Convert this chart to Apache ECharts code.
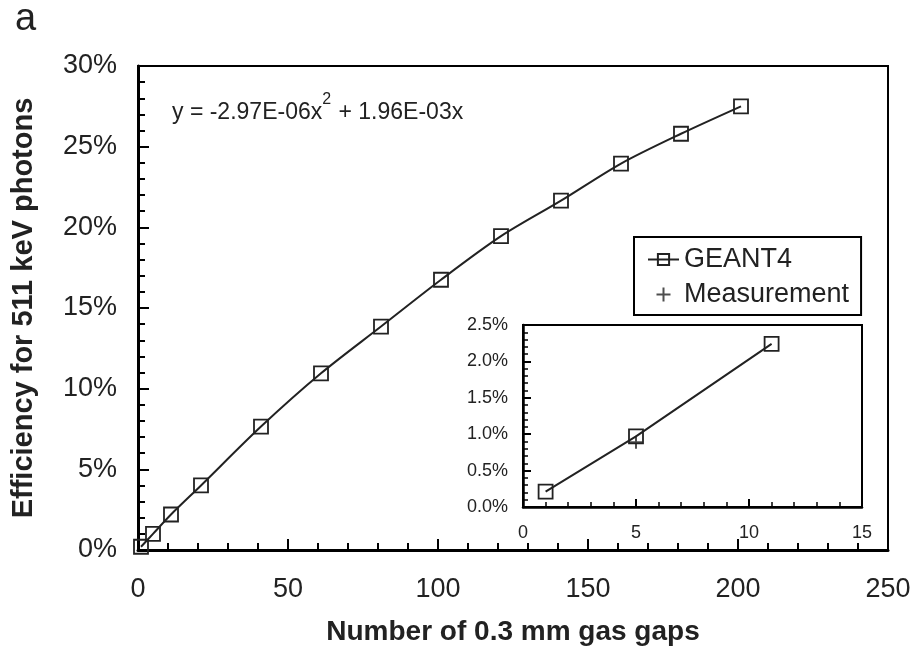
<!DOCTYPE html>
<html><head><meta charset="utf-8">
<script src="https://cdn.jsdelivr.net/npm/echarts@6/dist/echarts.min.js"></script>
<style>html,body{margin:0;padding:0;background:#fff}#c{width:919px;height:651px}</style>
</head><body><div id="c"></div>
<script>
// Main chart data (efficiency in %)
const gaps = [1, 5, 11, 21, 41, 61, 81, 101, 121, 141, 161, 181, 201];
const geant4 = [0.2, 1.0, 2.2, 4.0, 7.65, 10.95, 13.85, 16.75, 19.45, 21.65, 23.95, 25.8, 27.5];
// Inset data
const insetGaps = [1, 5, 11];
const insetGeant4 = [0.21, 0.97, 2.24];
const measGaps = [5];
const measValues = [0.89];
const equationText = ['y = -2.97E-06x', '2', ' + 1.96E-03x'];

const font = 'Liberation Sans, Arial, sans-serif';
const txt = '#222';
const plus = 'path://M5,0 L5,10 M0,5 L10,5';

const chart = echarts.init(document.getElementById('c'), null, {renderer: 'canvas'});
chart.setOption({
  animation: false,
  backgroundColor: '#fff',
  textStyle: {fontFamily: font},
  title: {text: 'a', left: 15, top: 1, padding: 0, textStyle: {fontSize: 38, fontWeight: 'normal', color: txt, fontFamily: font}},
  grid: [
    {left: 138, right: 31, top: 66, bottom: 95, show: true, borderColor: '#000', borderWidth: 2, backgroundColor: 'transparent'},
    {left: 523, right: 57, top: 325, bottom: 144, show: true, borderColor: '#000', borderWidth: 2, backgroundColor: '#fff', z: 5}
  ],
  xAxis: [
    {gridIndex: 0, type: 'value', min: 0, max: 250, interval: 50,
     name: 'Number of 0.3 mm gas gaps', nameLocation: 'middle', nameGap: 68,
     nameTextStyle: {fontSize: 28, fontWeight: 'bold', color: txt, fontFamily: font},
     axisLine: {lineStyle: {color: '#000', width: 3}},
     axisTick: {inside: true, length: 11, lineStyle: {color: '#000', width: 2}},
     minorTick: {show: true, splitNumber: 5, length: 7, lineStyle: {color: '#000', width: 2}},
     splitLine: {show: false},
     axisLabel: {fontSize: 27, color: txt, margin: 26, fontFamily: font}},
    {gridIndex: 1, type: 'value', min: 0, max: 15, interval: 5, z: 6,
     axisLine: {lineStyle: {color: '#000', width: 2.5}},
     axisTick: {inside: true, length: 8, lineStyle: {color: '#000', width: 2}},
     minorTick: {show: true, splitNumber: 5, length: 5, lineStyle: {color: '#000', width: 1.5}},
     splitLine: {show: false},
     axisLabel: {fontSize: 18, color: txt, margin: 17, fontFamily: font}}
  ],
  yAxis: [
    {gridIndex: 0, type: 'value', min: 0, max: 30, interval: 5,
     name: 'Efficiency for 511 keV photons', nameLocation: 'middle', nameGap: 100, nameRotate: 90,
     nameTextStyle: {fontSize: 29, fontWeight: 'bold', color: txt, fontFamily: font},
     axisLine: {lineStyle: {color: '#000', width: 3}},
     axisTick: {inside: true, length: 11, lineStyle: {color: '#000', width: 2}},
     minorTick: {show: true, splitNumber: 5, length: 7, lineStyle: {color: '#000', width: 2}},
     splitLine: {show: false},
     axisLabel: {fontSize: 27, color: txt, margin: 21, formatter: v => v + '%', fontFamily: font}},
    {gridIndex: 1, type: 'value', min: 0, max: 2.5, interval: 0.5, z: 6,
     axisLine: {lineStyle: {color: '#000', width: 2.5}},
     axisTick: {inside: true, length: 8, lineStyle: {color: '#000', width: 2}},
     minorTick: {show: true, splitNumber: 5, length: 5, lineStyle: {color: '#000', width: 1.5}},
     splitLine: {show: false},
     axisLabel: {fontSize: 18, color: txt, margin: 15, formatter: v => v.toFixed(1) + '%', fontFamily: font}}
  ],
  legend: {
    orient: 'vertical', left: 634, top: 237,
    padding: [9, 12, 7, 13], itemGap: 8, itemWidth: 31, itemHeight: 14,
    borderColor: '#000', borderWidth: 2, backgroundColor: '#fff',
    textStyle: {fontSize: 27, color: txt, fontFamily: font},
    data: ['GEANT4', 'Measurement']
  },
  series: [
    {name: 'GEANT4', type: 'line', xAxisIndex: 0, yAxisIndex: 0, smooth: 0.3,
     data: gaps.map((g, i) => [g, geant4[i]]),
     symbol: 'rect', symbolSize: 14,
     lineStyle: {color: '#222', width: 2},
     itemStyle: {color: 'rgba(0,0,0,0)', borderColor: '#222', borderWidth: 1.8}},
    {name: 'GEANT4', type: 'line', xAxisIndex: 1, yAxisIndex: 1, z: 7,
     data: insetGaps.map((g, i) => [g, insetGeant4[i]]),
     symbol: 'rect', symbolSize: 14,
     lineStyle: {color: '#222', width: 2},
     itemStyle: {color: 'rgba(0,0,0,0)', borderColor: '#222', borderWidth: 1.8}},
    {name: 'Measurement', type: 'scatter', xAxisIndex: 1, yAxisIndex: 1, z: 7,
     data: measGaps.map((g, i) => [g, measValues[i]]),
     symbol: plus, symbolSize: 13,
     itemStyle: {color: 'rgba(0,0,0,0)', borderColor: '#222', borderWidth: 2}}
  ],
  graphic: [
    {type: 'text', left: 172, top: 92, z: 10,
     style: {text: '{a|' + equationText[0] + '}{s|' + equationText[1] + '}{a|' + equationText[2] + '}',
       rich: {a: {fontSize: 23, fill: txt, fontFamily: font, verticalAlign: 'bottom', lineHeight: 32},
              s: {fontSize: 16, fill: txt, fontFamily: font, verticalAlign: 'top', lineHeight: 32, padding: [0, 1, 15, 0]}}}}
  ]
});
</script></body></html>
